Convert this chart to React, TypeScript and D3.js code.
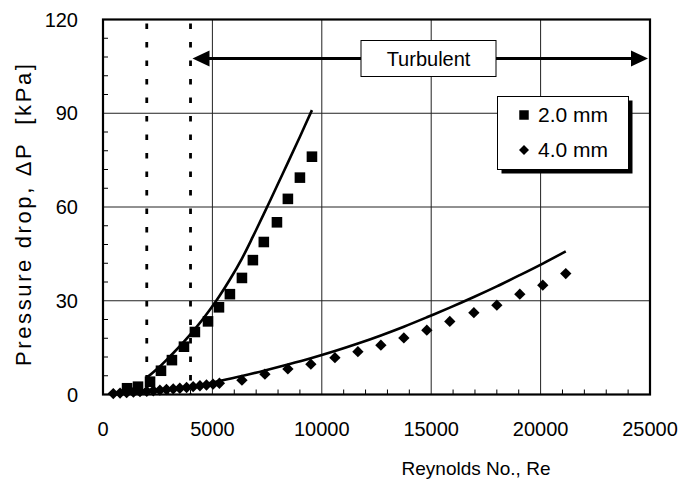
import React from 'react';
import * as d3 from 'd3';

// 2.0 mm channel: measured points
const re2mm = [1100, 1600, 2150, 2650, 3150, 3700, 4200, 4800, 5300, 5800, 6350, 6850, 7350, 7950, 8450, 9000, 9550];
const dp2mm = [2.0, 2.5, 4.1, 7.6, 11.0, 15.3, 20.0, 23.4, 27.9, 32.1, 37.3, 43.0, 48.8, 55.1, 62.6, 69.4, 76.1];
// 2.0 mm channel: prediction curve
const re2mmFit = [2000, 2650, 3150, 3700, 4200, 4800, 5300, 5800, 6350, 6850, 7350, 7950, 8450, 9000, 9550];
const dp2mmFit = [5.4, 9.3, 12.8, 16.9, 20.9, 26.3, 31.3, 36.8, 43.5, 50.5, 57.8, 66.7, 74.2, 82.5, 91.0];

// 4.0 mm channel: measured points
const re4mm = [470, 780, 1080, 1390, 1690, 2000, 2300, 2600, 2900, 3210, 3510, 3820, 4120, 4430, 4730, 5030, 5320,
  6350, 7400, 8450, 9500, 10600, 11650, 12700, 13750, 14800, 15850, 16950, 18000, 19050, 20100, 21150];
const dp4mm = [0.3, 0.45, 0.6, 0.75, 0.9, 1.05, 1.2, 1.4, 1.6, 1.8, 2.0, 2.25, 2.5, 2.8, 3.05, 3.3, 3.6,
  4.6, 6.5, 8.2, 9.7, 11.8, 13.7, 15.8, 18.1, 20.6, 23.4, 26.2, 28.6, 32.1, 35.0, 38.7];
// 4.0 mm channel: prediction curve
const re4mmFit = [4430, 5320, 6350, 7400, 8450, 9500, 10600, 11650, 12700, 13750, 14800, 15850, 16950, 18000, 19050, 20100, 21150];
const dp4mmFit = [3.0, 4.3, 5.9, 7.7, 9.6, 11.6, 13.9, 16.3, 18.9, 21.7, 24.7, 27.8, 31.2, 34.6, 38.2, 41.9, 45.8];

const xTicks = [0, 5000, 10000, 15000, 20000, 25000];
const yTicks = [0, 30, 60, 90, 120];
const flowLimits = [2000, 4000];
const legendLabels = ['2.0 mm', '4.0 mm'];

const W = 683;
const H = 485;
const plot = { left: 103, top: 19.5, right: 650, bottom: 394.5 };
const FONT = 'Liberation Sans, Arial, sans-serif';

export default function App() {
  const x = d3.scaleLinear().domain([0, 25000]).range([plot.left, plot.right]);
  const y = d3.scaleLinear().domain([0, 120]).range([plot.bottom, plot.top]);

  const line = d3.line<[number, number]>()
    .x(d => x(d[0]))
    .y(d => y(d[1]))
    .curve(d3.curveCatmullRom.alpha(0.5));

  const fit2 = re2mmFit.map((r, i) => [r, dp2mmFit[i]] as [number, number]);
  const fit4 = re4mmFit.map((r, i) => [r, dp4mmFit[i]] as [number, number]);

  const square = d3.symbol(d3.symbolSquare, 112)();
  const diamond = d3.symbol(d3.symbolSquare, 64)();

  const xMinor = d3.range(1000, 25000, 1000).filter(v => v % 5000 !== 0);
  const yMinor = d3.range(6, 120, 6).filter(v => v % 30 !== 0);

  const arrowY = 58.5;
  const arrowL = x(4000) + 2;
  const arrowR = plot.right - 2;

  return (
    <svg width={W} height={H} style={{ position: 'absolute', left: 0, top: 0, background: '#fff' }}
      fontFamily={FONT}>
      <rect x={0} y={0} width={W} height={H} fill="#fff" />

      {/* grid */}
      {xTicks.slice(1, -1).map(t => (
        <line key={'gx' + t} x1={x(t)} x2={x(t)} y1={plot.top} y2={plot.bottom} stroke="#222" strokeWidth={1} />
      ))}
      {yTicks.slice(1, -1).map(t => (
        <line key={'gy' + t} x1={plot.left} x2={plot.right} y1={y(t)} y2={y(t)} stroke="#222" strokeWidth={1} />
      ))}

      {/* minor ticks */}
      {xMinor.map(t => (
        <line key={'mx' + t} x1={x(t)} x2={x(t)} y1={plot.bottom} y2={plot.bottom - 5} stroke="#000" strokeWidth={1} />
      ))}
      {yMinor.map(t => (
        <line key={'my' + t} x1={plot.left} x2={plot.left + 5} y1={y(t)} y2={y(t)} stroke="#000" strokeWidth={1} />
      ))}

      {/* laminar / transition limits */}
      {flowLimits.map(v => (
        <line key={'fl' + v} x1={x(v)} x2={x(v)} y1={plot.top + 4} y2={plot.bottom}
          stroke="#000" strokeWidth={2.8} strokeDasharray="5.5,13" />
      ))}

      {/* turbulent arrow */}
      <line x1={arrowL + 14} x2={arrowR - 14} y1={arrowY} y2={arrowY} stroke="#000" strokeWidth={3} />
      <path d={`M${arrowL},${arrowY} L${arrowL + 17},${arrowY - 8} L${arrowL + 17},${arrowY + 8} Z`} fill="#000" />
      <path d={`M${arrowR},${arrowY} L${arrowR - 17},${arrowY - 8} L${arrowR - 17},${arrowY + 8} Z`} fill="#000" />
      <rect x={361} y={40.5} width={135} height={36} fill="#fff" stroke="#000" strokeWidth={1} />
      <text x={428.5} y={58.5} dy="0.35em" textAnchor="middle" fontSize={20}>Turbulent</text>

      {/* curves */}
      <path d={line(fit2) || ''} fill="none" stroke="#000" strokeWidth={2.6} />
      <path d={line(fit4) || ''} fill="none" stroke="#000" strokeWidth={2.6} />

      {/* markers */}
      {re4mm.map((r, i) => (
        <path key={'d' + i} d={diamond} transform={`translate(${x(r)},${y(dp4mm[i])}) rotate(45)`} fill="#000" />
      ))}
      {re2mm.map((r, i) => (
        <path key={'s' + i} d={square} transform={`translate(${x(r)},${y(dp2mm[i])})`} fill="#000" />
      ))}

      {/* frame */}
      <rect x={plot.left} y={plot.top} width={plot.right - plot.left} height={plot.bottom - plot.top}
        fill="none" stroke="#000" strokeWidth={2.2} />

      {/* legend */}
      <rect x={501.5} y={100.5} width={131} height={73} fill="#000" />
      <rect x={497.5} y={96.5} width={131} height={73} fill="#fff" stroke="#000" strokeWidth={1} />
      <path d={d3.symbol(d3.symbolSquare, 90)()} transform="translate(524,115)" fill="#000" />
      <path d={d3.symbol(d3.symbolSquare, 50)()} transform="translate(524,150) rotate(45)" fill="#000" />
      {legendLabels.map((l, i) => (
        <text key={l} x={538} y={115 + i * 35} dy="0.35em" fontSize={21}>{l}</text>
      ))}

      {/* axes labels */}
      {xTicks.map(t => (
        <text key={'xt' + t} x={x(t)} y={436} textAnchor="middle" fontSize={20}>{t}</text>
      ))}
      {yTicks.map(t => (
        <text key={'yt' + t} x={78} y={y(t)} dy="0.35em" textAnchor="end" fontSize={20}>{t}</text>
      ))}
      <text x={476} y={475} textAnchor="middle" fontSize={19}>Reynolds No., Re</text>
      <text transform={`translate(31,${(plot.top + plot.bottom) / 2 + 8}) rotate(-90)`} textAnchor="middle"
        fontSize={22} textLength={302} lengthAdjust="spacing" xmlSpace="preserve">{'Pressure drop, ΔP  [kPa]'}</text>
    </svg>
  );
}
